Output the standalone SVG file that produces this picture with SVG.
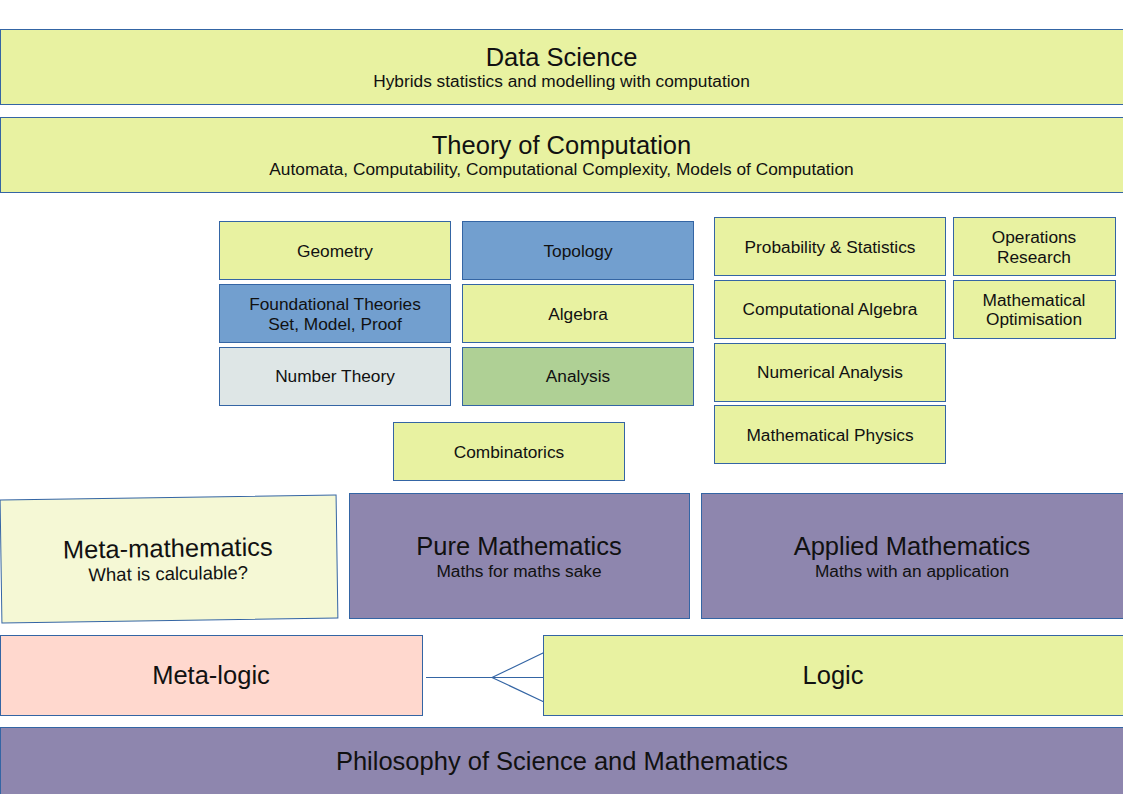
<svg xmlns="http://www.w3.org/2000/svg" width="1123" height="794" viewBox="0 0 1123 794">
<style>
.n { stroke: #3465a4; stroke-width: 1; }
.y { fill: #e8f2a1; }
.b { fill: #729fcf; }
.g { fill: #dee6e6; }
.gr { fill: #afd095; }
.p { fill: #8e86ae; }
.lm { fill: #f5f8d5; }
.pk { fill: #ffd8ce; }
text { font-family: "Liberation Sans", Arial, sans-serif; fill: #111; text-anchor: middle; }
.t { font-size: 25.5px; }
.s { font-size: 17.3px; }
.c { stroke: #3465a4; stroke-width: 1.2; fill: none; }
</style>
<rect width="1123" height="794" fill="#fff"/>
<g id="data-science">
<rect class="n y" x="0.5" y="29.5" width="1125" height="75"/>
<text class="t" x="561.5" y="66">Data Science</text>
<text class="s" x="561.5" y="87">Hybrids statistics and modelling with computation</text>
</g>
<g id="theory-of-computation">
<rect class="n y" x="0.5" y="117.5" width="1125" height="75"/>
<text class="t" x="561.5" y="154">Theory of Computation</text>
<text class="s" x="561.5" y="175">Automata, Computability, Computational Complexity, Models of Computation</text>
</g>
<g id="geometry">
<rect class="n y" x="219.5" y="221.5" width="231" height="58"/>
<text class="s" x="335" y="257">Geometry</text>
</g>
<g id="foundational">
<rect class="n b" x="219.5" y="284.5" width="231" height="58"/>
<text class="s" x="335" y="310">Foundational Theories</text>
<text class="s" x="335" y="330">Set, Model, Proof</text>
</g>
<g id="number-theory">
<rect class="n g" x="219.5" y="347.5" width="231" height="58"/>
<text class="s" x="335" y="382">Number Theory</text>
</g>
<g id="topology">
<rect class="n b" x="462.5" y="221.5" width="231" height="58"/>
<text class="s" x="578" y="257">Topology</text>
</g>
<g id="algebra">
<rect class="n y" x="462.5" y="284.5" width="231" height="58"/>
<text class="s" x="578" y="320">Algebra</text>
</g>
<g id="analysis">
<rect class="n gr" x="462.5" y="347.5" width="231" height="58"/>
<text class="s" x="578" y="382">Analysis</text>
</g>
<g id="combinatorics">
<rect class="n y" x="393.5" y="422.5" width="231" height="58"/>
<text class="s" x="509" y="458">Combinatorics</text>
</g>
<g id="probability">
<rect class="n y" x="714.5" y="217.5" width="231" height="58"/>
<text class="s" x="830" y="253">Probability &amp; Statistics</text>
</g>
<g id="computational-algebra">
<rect class="n y" x="714.5" y="280.5" width="231" height="58"/>
<text class="s" x="830" y="315">Computational Algebra</text>
</g>
<g id="numerical-analysis">
<rect class="n y" x="714.5" y="343.5" width="231" height="58"/>
<text class="s" x="830" y="378">Numerical Analysis</text>
</g>
<g id="mathematical-physics">
<rect class="n y" x="714.5" y="405.5" width="231" height="58"/>
<text class="s" x="830" y="441">Mathematical Physics</text>
</g>
<g id="operations-research">
<rect class="n y" x="953.5" y="217.5" width="162" height="58"/>
<text class="s" x="1034" y="243">Operations</text>
<text class="s" x="1034" y="263">Research</text>
</g>
<g id="mathematical-optimisation">
<rect class="n y" x="953.5" y="280.5" width="162" height="58"/>
<text class="s" x="1034" y="306">Mathematical</text>
<text class="s" x="1034" y="325">Optimisation</text>
</g>
<g id="meta-mathematics" transform="rotate(-0.85 168.5 559)">
<rect class="n lm" x="1" y="497.5" width="336" height="123"/>
<text class="t" x="168" y="557">Meta-mathematics</text>
<text class="s" x="168" y="580" style="font-size:18.5px">What is calculable?</text>
</g>
<g id="pure-mathematics">
<rect class="n p" x="349.5" y="493.5" width="340" height="125"/>
<text class="t" x="519" y="555">Pure Mathematics</text>
<text class="s" x="519" y="577">Maths for maths sake</text>
</g>
<g id="applied-mathematics">
<rect class="n p" x="701.5" y="493.5" width="425" height="125"/>
<text class="t" x="912" y="555">Applied Mathematics</text>
<text class="s" x="912" y="577">Maths with an application</text>
</g>
<g id="meta-logic">
<rect class="n pk" x="0.5" y="635.5" width="422" height="80"/>
<text class="t" x="211" y="684">Meta-logic</text>
</g>
<g id="logic">
<rect class="n y" x="543.5" y="635.5" width="583" height="80"/>
<text class="t" x="833" y="684">Logic</text>
</g>
<g id="philosophy">
<rect class="n p" x="0.5" y="727.5" width="1125" height="75"/>
<text class="t" x="562" y="770">Philosophy of Science and Mathematics</text>
</g>
<g id="connectors">
<path class="c" d="M426 677.5 H543.5 M492 677.5 L543.5 652.7 M492 677.5 L543.5 701.7"/>
</g>
</svg>
